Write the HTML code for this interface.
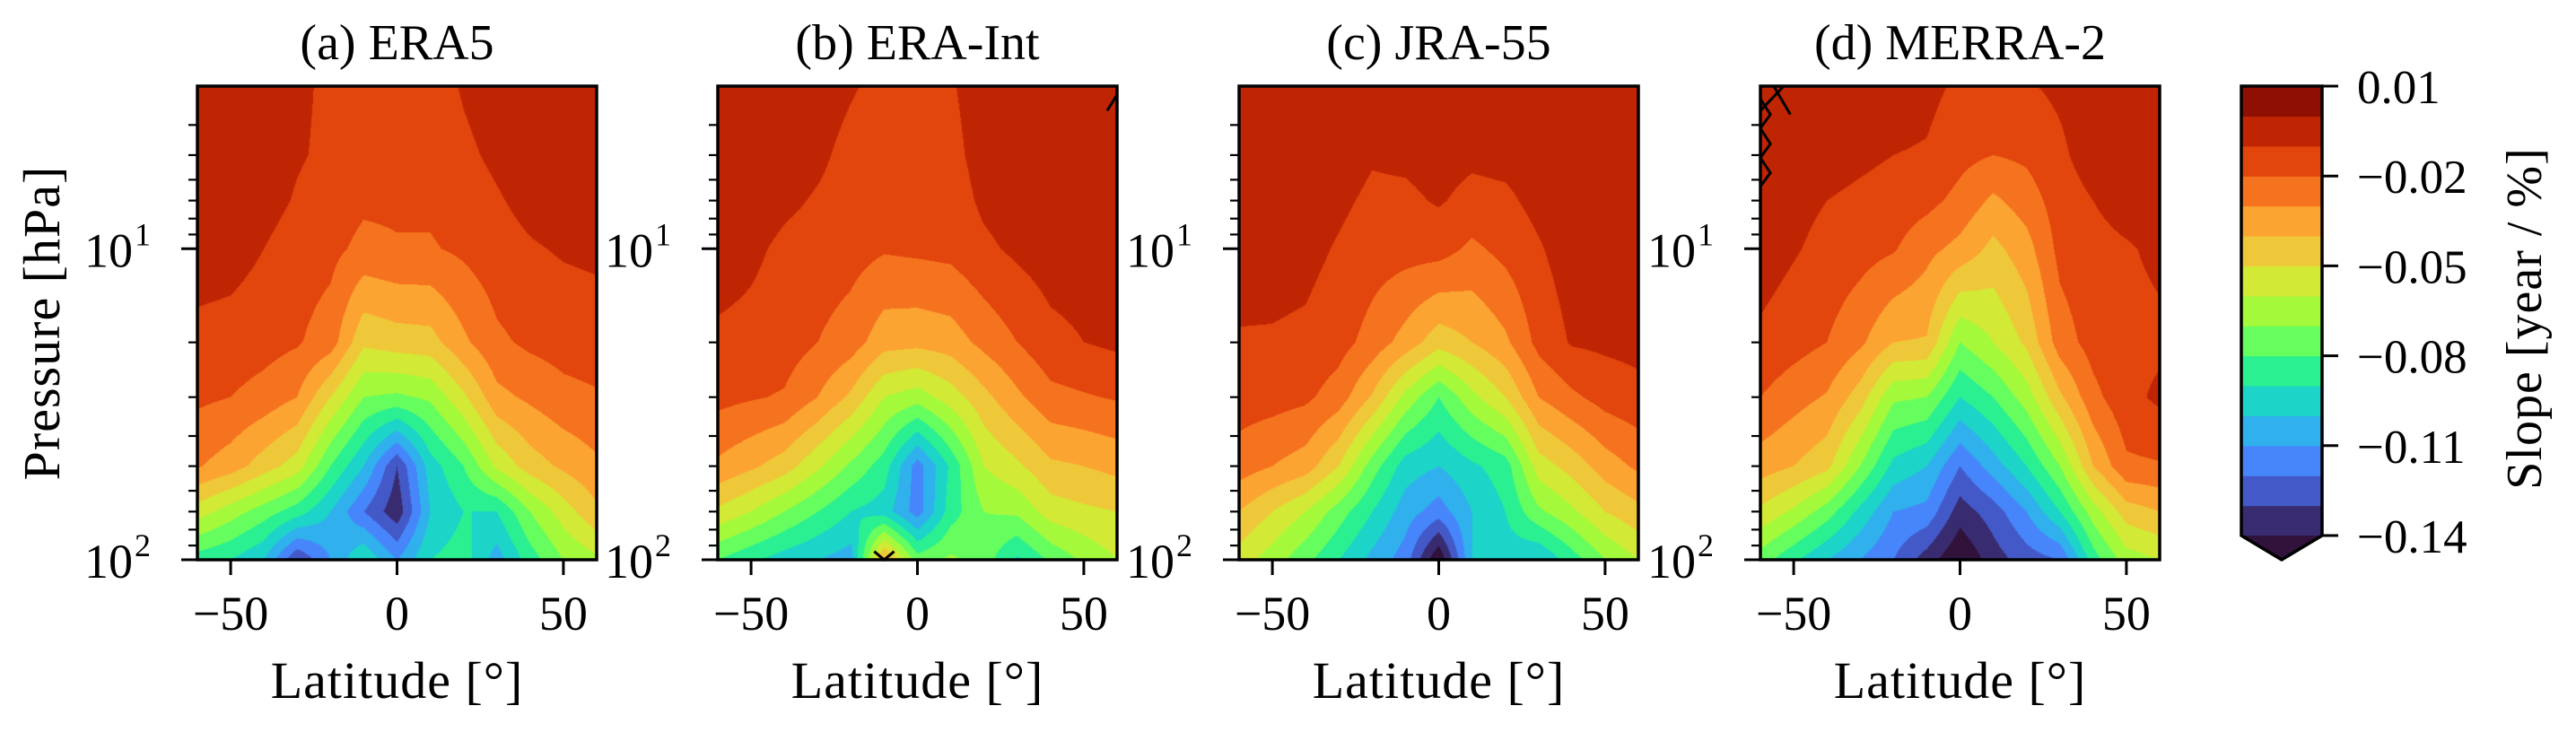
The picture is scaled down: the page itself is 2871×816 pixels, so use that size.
<!DOCTYPE html>
<html><head><meta charset="utf-8">
<style>
html,body{margin:0;padding:0;background:#fff;}
#root{position:relative;width:2871px;height:816px;overflow:hidden;background:#fff;}
canvas{position:absolute;}
svg{position:absolute;left:0;top:0;}
text{font-family:"Liberation Serif",serif;fill:#000;}
</style></head>
<body>
<div id="root">
<canvas id="cv0"></canvas>
<canvas id="cv1"></canvas>
<canvas id="cv2"></canvas>
<canvas id="cv3"></canvas>
<svg id="ov" width="2871" height="816"></svg>
</div>
<script>
const lats = [-60,-50,-40,-30,-20,-10,0,10,20,30,40,50,60];
const pressures = [3,5,7,10,20,30,50,70,100];
const titles = ["(a)  ERA5","(b)  ERA-Int","(c)  JRA-55","(d)  MERRA-2"];
const levelMin = -0.14, levelStep = 0.01;
const cbTicks = [0.01,-0.02,-0.05,-0.08,-0.11,-0.14];
const cbTickLabels = ["0.01","\u22120.02","\u22120.05","\u22120.08","\u22120.11","\u22120.14"];
const xTicks = [-50,0,50];
const xTickLabels = ["\u221250","0","50"];
const levelColors = ["#392b70","#4459c8","#4686fa","#30b0ed","#1dd4c8","#2af091","#66fd5f","#a4f93b","#d2e935","#efc83a","#fca431","#f5731f","#e2460d","#c02503","#8f0f02"];
const extColor = "#30123b";

const era5 = [
[-.005,-.005,-.005,-.008,-.012,-.015,-.015,-.015,-.009,-.005,-.005,-.005,-.005],
[-.005,-.005,-.005,-.009,-.012,-.016,-.017,-.016,-.012,-.008,-.005,-.005,-.005],
[-.005,-.005,-.006,-.011,-.014,-.018,-.018,-.018,-.015,-.011,-.007,-.005,-.005],
[-.005,-.006,-.010,-.015,-.017,-.023,-.021,-.021,-.018,-.014,-.011,-.009,-.008],
[-.013,-.014,-.016,-.019,-.025,-.048,-.045,-.044,-.032,-.022,-.018,-.016,-.015],
[-.018,-.020,-.024,-.030,-.050,-.070,-.072,-.068,-.052,-.033,-.028,-.023,-.021],
[-.029,-.035,-.045,-.055,-.080,-.100,-.130,-.095,-.080,-.058,-.045,-.038,-.032],
[-.055,-.065,-.075,-.085,-.100,-.120,-.137,-.100,-.090,-.090,-.070,-.055,-.042],
[-.085,-.090,-.100,-.130,-.110,-.090,-.110,-.090,-.085,-.105,-.085,-.070,-.062]];
const eraInt = [
[-.005,-.005,-.005,-.005,-.009,-.013,-.013,-.011,-.005,-.005,-.005,-.005,-.005],
[-.005,-.005,-.005,-.008,-.013,-.015,-.014,-.013,-.006,-.005,-.005,-.005,-.005],
[-.005,-.005,-.008,-.011,-.014,-.017,-.016,-.015,-.008,-.005,-.005,-.005,-.005],
[-.005,-.008,-.012,-.014,-.016,-.019,-.018,-.017,-.012,-.008,-.005,-.005,-.005],
[-.012,-.013,-.015,-.020,-.025,-.036,-.037,-.035,-.027,-.020,-.013,-.010,-.008],
[-.017,-.019,-.021,-.030,-.042,-.060,-.065,-.055,-.043,-.032,-.023,-.021,-.019],
[-.032,-.038,-.045,-.058,-.072,-.085,-.115,-.088,-.060,-.052,-.042,-.040,-.037],
[-.052,-.060,-.070,-.080,-.090,-.095,-.115,-.085,-.070,-.068,-.055,-.052,-.050],
[-.080,-.088,-.095,-.100,-.105,-.035,-.075,-.068,-.075,-.092,-.078,-.068,-.060]];
const jra55 = [
[-.005,-.005,-.005,-.005,-.005,-.005,-.005,-.005,-.005,-.005,-.005,-.005,-.005],
[-.005,-.005,-.005,-.005,-.009,-.008,-.006,-.008,-.007,-.005,-.005,-.005,-.005],
[-.005,-.005,-.005,-.008,-.012,-.012,-.009,-.013,-.012,-.007,-.005,-.005,-.005],
[-.005,-.006,-.007,-.011,-.015,-.016,-.016,-.022,-.017,-.011,-.005,-.005,-.005],
[-.011,-.011,-.012,-.016,-.024,-.034,-.046,-.040,-.032,-.017,-.009,-.008,-.007],
[-.015,-.016,-.018,-.025,-.041,-.063,-.080,-.063,-.050,-.030,-.022,-.016,-.013],
[-.025,-.030,-.035,-.050,-.075,-.095,-.100,-.092,-.085,-.055,-.046,-.035,-.028],
[-.040,-.050,-.060,-.075,-.090,-.105,-.115,-.100,-.090,-.072,-.062,-.050,-.043],
[-.055,-.065,-.077,-.090,-.103,-.115,-.150,-.100,-.095,-.100,-.085,-.070,-.060]];
const merra2 = [
[-.005,-.005,-.005,-.005,-.005,-.007,-.012,-.012,-.011,-.008,-.005,-.005,-.005],
[-.005,-.005,-.006,-.008,-.010,-.011,-.017,-.020,-.018,-.012,-.005,-.005,-.005],
[-.005,-.007,-.010,-.012,-.014,-.017,-.023,-.032,-.025,-.015,-.010,-.006,-.005],
[-.005,-.009,-.013,-.016,-.019,-.027,-.033,-.043,-.034,-.017,-.013,-.011,-.008],
[-.012,-.016,-.020,-.028,-.040,-.041,-.070,-.060,-.048,-.025,-.016,-.013,-.012],
[-.020,-.026,-.031,-.045,-.068,-.070,-.090,-.080,-.065,-.042,-.023,-.013,-.008],
[-.035,-.040,-.047,-.070,-.093,-.100,-.120,-.105,-.090,-.070,-.040,-.022,-.021],
[-.052,-.062,-.075,-.093,-.110,-.113,-.135,-.125,-.110,-.090,-.065,-.045,-.040],
[-.075,-.088,-.100,-.110,-.120,-.135,-.150,-.135,-.125,-.120,-.085,-.065,-.060]];
const panelsData = [era5, eraInt, jra55, merra2];
const hatchB = [[[-13,94],[-10,100],[-7,94]],[[57,3.6],[60,3.2]]];
const hatchD = [[[-60,3.3],[-57,3.7],[-60,4.1],[-57,4.6],[-60,5.1],[-57,5.7],[-60,6.3]],[[-56,3],[-51,3.7]],[[-60,3.6],[-53,3]]];
const hatches = [[], hatchB, [], hatchD];

const PW = 445, PH = 528, PT = 96;
const panelLefts = [220, 800, 1381, 1962];
const logTop = Math.log10(3), logBot = 2;
function xScale(lat){ return (lat + 60) / 120 * PW; }
function yScale(p){ return (Math.log10(p) - logTop) / (logBot - logTop) * PH; }
function colorFor(v){
  const k = Math.floor((v - levelMin) / levelStep + 1e-9);
  if (k < 0) return extColor;
  if (k >= levelColors.length) return levelColors[levelColors.length-1];
  return levelColors[k];
}
function hexRgb(h){ return [parseInt(h.slice(1,3),16),parseInt(h.slice(3,5),16),parseInt(h.slice(5,7),16)]; }
const logP = pressures.map(p => Math.log10(p));
function sample(grid, lat, lp){
  let i = Math.min(lats.length-2, Math.max(0, Math.floor((lat + 60) / 10)));
  let tx = (lat - lats[i]) / (lats[i+1]-lats[i]);
  let j = 0;
  while (j < logP.length-2 && lp > logP[j+1]) j++;
  let ty = (lp - logP[j]) / (logP[j+1]-logP[j]);
  tx = Math.max(0,Math.min(1,tx)); ty = Math.max(0,Math.min(1,ty));
  const a = grid[j][i], b = grid[j][i+1], c = grid[j+1][i], d = grid[j+1][i+1];
  return (a*(1-tx)+b*tx)*(1-ty) + (c*(1-tx)+d*tx)*ty;
}
panelsData.forEach((grid, n) => {
  const cv = document.getElementById('cv'+n);
  cv.width = PW; cv.height = PH;
  cv.style.left = panelLefts[n]+'px'; cv.style.top = PT+'px';
  const ctx = cv.getContext('2d');
  const img = ctx.createImageData(PW, PH);
  const cache = {};
  for (let y = 0; y < PH; y++){
    const lp = logTop + (y+0.5)/PH*(logBot-logTop);
    for (let x = 0; x < PW; x++){
      const lat = -60 + (x+0.5)/PW*120;
      const col = colorFor(sample(grid, lat, lp));
      const rgb = cache[col] || (cache[col] = hexRgb(col));
      const o = (y*PW + x)*4;
      img.data[o]=rgb[0]; img.data[o+1]=rgb[1]; img.data[o+2]=rgb[2]; img.data[o+3]=255;
    }
  }
  ctx.putImageData(img,0,0);
});

const NS = "http://www.w3.org/2000/svg";
const svg = document.getElementById('ov');
function mk(tag, attrs, parent){
  const e = document.createElementNS(NS, tag);
  for (const k in attrs) e.setAttribute(k, attrs[k]);
  (parent||svg).appendChild(e);
  return e;
}
const minorP = [4,5,6,7,8,9,20,30,40,50,60,70,80,90];
panelsData.forEach((grid, n) => {
  const L = panelLefts[n];
  const g = mk('g', {});
  
  
  hatches[n].forEach(line => {
    const pl = mk('polyline', {points: line.map(pt => (L+xScale(pt[0]))+','+(PT+yScale(pt[1]))).join(' '), fill:'none', stroke:'#000', 'stroke-width':3}, g);
    
    
  });
  const fr = mk('rect', {x:L, y:PT, width:PW, height:PH, fill:'none', stroke:'#000', 'stroke-width':3.5}, g);
  
  
  const t = mk('text', {x:L+PW/2, y:66, 'font-size':56, 'text-anchor':'middle'}, g);
  t.textContent = titles[n];
  
  
  xTicks.forEach((v, i) => {
    const x = L + xScale(v);
    mk('line', {x1:x, x2:x, y1:PT+PH, y2:PT+PH+17, stroke:'#000', 'stroke-width':3}, g);
    const tl = mk('text', {x:x, y:702, 'font-size':54, 'text-anchor':'middle'}, g);
    tl.textContent = xTickLabels[i];
    
    
  });
  [10,100].forEach(p => {
    const y = PT + yScale(p);
    mk('line', {x1:L-18, x2:L, y1:y, y2:y, stroke:'#000', 'stroke-width':3}, g);
    const tl = mk('text', {x:L-72, y:y+20, 'font-size':54, 'text-anchor':'end'}, g);
    tl.textContent = '10';
    
    
    const sup = mk('text', {x:L-70, y:y-4, 'font-size':36, 'text-anchor':'start'}, g);
    sup.textContent = p === 10 ? '1' : '2';
    
    
  });
  minorP.forEach(p => {
    const y = PT + yScale(p);
    mk('line', {x1:L-10, x2:L, y1:y, y2:y, stroke:'#000', 'stroke-width':2.2}, g);
  });
  const xl = mk('text', {x:L+PW/2, y:778, 'font-size':58, 'text-anchor':'middle', 'letter-spacing':1}, g);
  xl.textContent = 'Latitude [\u00b0]';
  
  
});
const yl = mk('text', {x:0, y:0, 'font-size':58, 'text-anchor':'middle', 'letter-spacing':1, transform:'translate(66,360) rotate(-90)'});
yl.textContent = 'Pressure [hPa]';



const CBL = 2498, CBW = 90, CBT = 96, CBB = 597, CBTIP = 624;
const cb = mk('g', {});


const nLev = levelColors.length;
function cbY(v){ return CBB - (v - levelMin) / (nLev*levelStep) * (CBB - CBT); }
levelColors.forEach((c, k) => {
  const y0 = cbY(levelMin + (k+1)*levelStep), y1 = cbY(levelMin + k*levelStep);
  const r = mk('rect', {x:CBL, y:y0, width:CBW, height:y1-y0+0.6, fill:c}, cb);
  
  
});
mk('polygon', {points:`${CBL},${CBB} ${CBL+CBW},${CBB} ${CBL+CBW/2},${CBTIP}`, fill:extColor}, cb);
mk('polygon', {points:`${CBL},${CBT} ${CBL+CBW},${CBT} ${CBL+CBW},${CBB} ${CBL+CBW/2},${CBTIP} ${CBL},${CBB}`, fill:'none', stroke:'#000', 'stroke-width':3.5}, cb);
cbTicks.forEach((v, i) => {
  const y = cbY(v);
  mk('line', {x1:CBL+CBW, x2:CBL+CBW+18, y1:y, y2:y, stroke:'#000', 'stroke-width':3}, cb);
  const tl = mk('text', {x:2627, y:y+19, 'font-size':53}, cb);
  tl.textContent = cbTickLabels[i];
  
  
});
const cl = mk('text', {x:0, y:0, 'font-size':56, 'text-anchor':'middle', 'letter-spacing':1, transform:'translate(2832,355) rotate(-90)'});
cl.textContent = 'Slope [year / %]';


</script>
</body></html>
